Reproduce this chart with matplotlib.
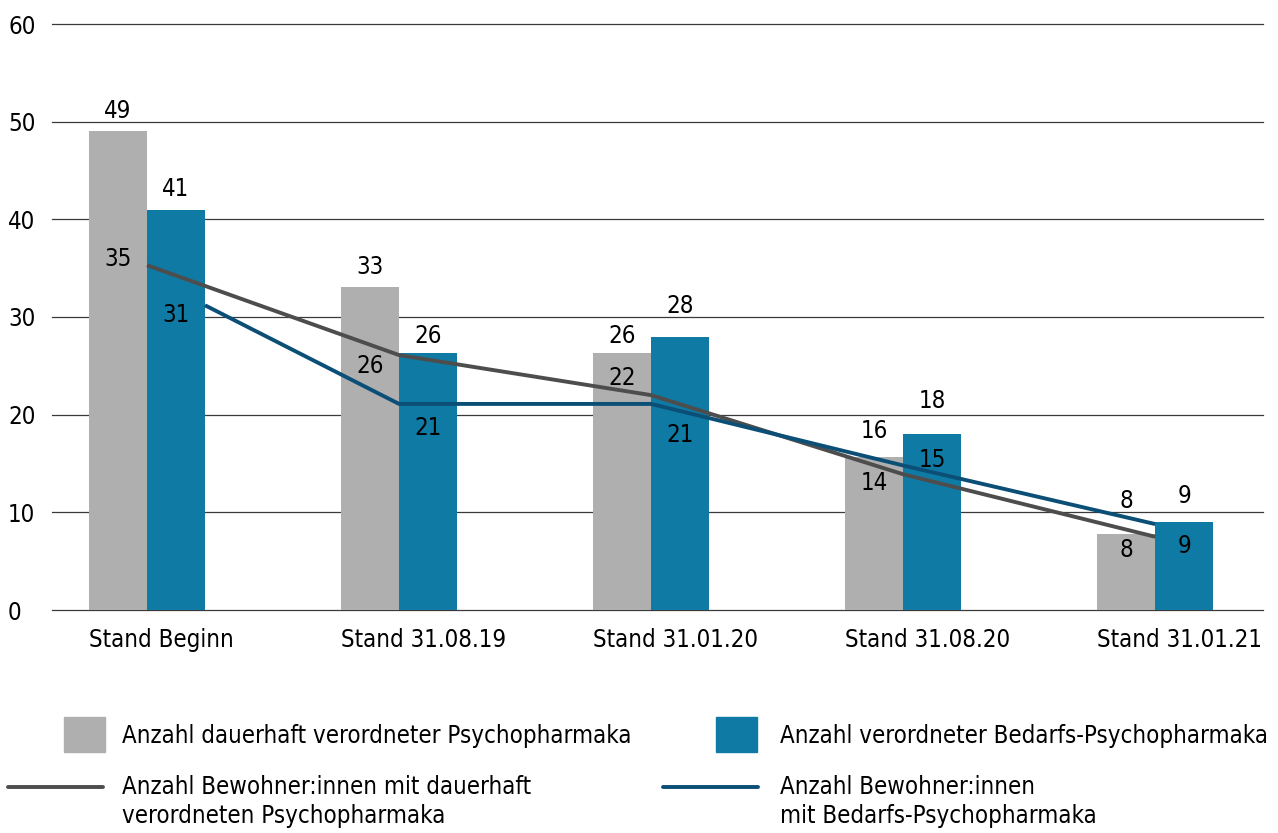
import matplotlib
matplotlib.use("Agg")
import matplotlib.pyplot as plt
import numpy as np
from matplotlib import font_manager as fm
from matplotlib.patches import Rectangle
from matplotlib.lines import Line2D

# --- data -------------------------------------------------------------
categories = ["Stand Beginn", "Stand 31.08.19", "Stand 31.01.20",
              "Stand 31.08.20", "Stand 31.01.21"]
dauer_bars = [49.0, 33.1, 26.3, 15.7, 7.8]
bedarf_bars = [41.0, 26.3, 28.0, 18.0, 9.0]
dauer_bar_labels = [49, 33, 26, 16, 8]
bedarf_bar_labels = [41, 26, 28, 18, 9]

dauer_line = [35.3, 26.1, 22.0, 13.9, 7.5]
bedarf_line = [31.2, 21.1, 21.1, 14.8, 8.8]
dauer_line_labels = [35, 26, 22, 14, 8]
bedarf_line_labels = [31, 21, 21, 15, 9]

legend_labels = [
    "Anzahl dauerhaft verordneter Psychopharmaka",
    "Anzahl verordneter Bedarfs-Psychopharmaka",
    "Anzahl Bewohner:innen mit dauerhaft\nverordneten Psychopharmaka",
    "Anzahl Bewohner:innen\nmit Bedarfs-Psychopharmaka",
]

# --- style ------------------------------------------------------------
GREY_BAR = "#afafaf"
BLUE_BAR = "#0f7aa3"
GREY_LINE = "#4d4d4d"
BLUE_LINE = "#0b4f77"
GRID = "#3a3a3a"

cond = [f for f in fm.fontManager.ttflist if "DejaVuSansCondensed.ttf" in f.fname]
if cond:
    plt.rcParams["font.family"] = [cond[0].name]
    plt.rcParams["font.stretch"] = cond[0].stretch
    FS = 17.2
else:
    plt.rcParams["font.family"] = ["Noto Sans"]
    FS = 16.0
plt.rcParams["font.size"] = FS

W, H = 1278, 833
PX = 0.72  # points per pixel at dpi 100

# label offsets in pixels (baseline relative to anchor value)
dauer_bar_dy = [13, 13, 10, 19, 26]
bedarf_bar_dy = [14, 10, 24, 26, 19]
dauer_line_dy = [-1, -18, 10, -16, -20]
bedarf_line_dy = [-17, -31, -38, -2, -29]

fig = plt.figure(figsize=(W / 100, H / 100), dpi=100)
ax = fig.add_axes([52 / W, 1 - 610 / H, (1263 - 52) / W, (610 - 24) / H])

x = np.arange(len(categories))
w = 0.23

ax.bar(x - w / 2, dauer_bars, width=w, color=GREY_BAR, zorder=2)
ax.bar(x + w / 2, bedarf_bars, width=w, color=BLUE_BAR, zorder=2)

# the Bedarf line starts at the right edge of the first blue bar
bedarf_x = x.astype(float).copy()
bedarf_x[0] += w
ax.plot(x, dauer_line, color=GREY_LINE, lw=2.8, zorder=3,
        solid_capstyle="butt")
ax.plot(bedarf_x, bedarf_line, color=BLUE_LINE, lw=2.8, zorder=3,
        solid_capstyle="butt")

for i in range(len(categories)):
    ax.annotate(str(dauer_bar_labels[i]), xy=(x[i] - w / 2, dauer_bars[i]),
                xytext=(0, dauer_bar_dy[i] * PX), textcoords="offset points",
                ha="center", va="baseline", fontsize=FS, zorder=4)
    ax.annotate(str(bedarf_bar_labels[i]), xy=(x[i] + w / 2, bedarf_bars[i]),
                xytext=(0, bedarf_bar_dy[i] * PX), textcoords="offset points",
                ha="center", va="baseline", fontsize=FS, zorder=4)
    ax.annotate(str(dauer_line_labels[i]), xy=(x[i] - w / 2, dauer_line[i]),
                xytext=(0, dauer_line_dy[i] * PX), textcoords="offset points",
                ha="center", va="baseline", fontsize=FS, zorder=4)
    ax.annotate(str(bedarf_line_labels[i]), xy=(x[i] + w / 2, bedarf_line[i]),
                xytext=(0, bedarf_line_dy[i] * PX), textcoords="offset points",
                ha="center", va="baseline", fontsize=FS, zorder=4)

ax.set_xlim(-0.377, 4.428)
ax.set_ylim(0, 60)
ax.set_yticks(np.arange(0, 61, 10))
ax.set_xticks(x - w)
ax.set_xticklabels(categories, ha="left")
ax.tick_params(axis="both", length=0, labelsize=FS)
ax.tick_params(axis="x", pad=13)
ax.tick_params(axis="y", pad=(52 - 8) * PX)
for lab in ax.get_yticklabels():
    lab.set_horizontalalignment("left")
    lab.set_verticalalignment("center_baseline")

for s in ax.spines.values():
    s.set_visible(False)
ax.set_axisbelow(True)
ax.yaxis.grid(True, color=GRID, lw=0.9)
for gl in ax.get_ygridlines():
    gl.set_clip_on(False)


# --- legend (drawn in pixel positions) --------------------------------
def fx(px):
    return px / W


def fy(py):
    return 1 - py / H


fig.patches.append(Rectangle((fx(64), fy(752)), fx(105) - fx(64), fy(717) - fy(752),
                             transform=fig.transFigure, color=GREY_BAR))
fig.patches.append(Rectangle((fx(716), fy(752)), fx(757) - fx(716), fy(717) - fy(752),
                             transform=fig.transFigure, color=BLUE_BAR))
fig.lines.append(Line2D([fx(8), fx(103)], [fy(787), fy(787)], transform=fig.transFigure,
                        color=GREY_LINE, lw=2.8, solid_capstyle="round"))
fig.lines.append(Line2D([fx(663), fx(758)], [fy(787), fy(787)], transform=fig.transFigure,
                        color=BLUE_LINE, lw=2.8, solid_capstyle="round"))

fig.text(fx(122), fy(743), legend_labels[0], ha="left", va="baseline", fontsize=FS)
fig.text(fx(780), fy(743), legend_labels[1], ha="left", va="baseline", fontsize=FS)
# multi-line text: baseline refers to the last line
fig.text(fx(122), fy(823), legend_labels[2], ha="left", va="baseline", fontsize=FS,
         linespacing=1.25)
fig.text(fx(780), fy(823), legend_labels[3], ha="left", va="baseline", fontsize=FS,
         linespacing=1.25)

fig.savefig("out.png", dpi=100, facecolor="white")
